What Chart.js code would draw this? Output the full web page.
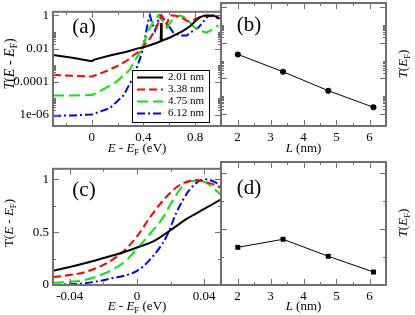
<!DOCTYPE html>
<html><head><meta charset="utf-8">
<script src="https://cdn.jsdelivr.net/npm/chart.js@4/dist/chart.umd.min.js"></script>
<style>
html,body{margin:0;padding:0;background:#fff;width:415px;height:315px;overflow:hidden}
canvas{position:absolute}
</style></head><body>
<canvas id="ca" width="223" height="160" style="left:0;top:0"></canvas>
<canvas id="cb" width="196" height="160" style="left:219px;top:0"></canvas>
<canvas id="cc" width="223" height="158" style="left:0;top:157px"></canvas>
<canvas id="cd" width="196" height="158" style="left:219px;top:157px"></canvas>
<script>
// ---------- data ----------
const seriesNames = ['2.01 nm', '3.38 nm', '4.75 nm', '6.12 nm'];
const lengths = [2.01, 3.38, 4.75, 6.12];

// panel (a): T(E - EF), log scale
const aE201 = [-0.3, -0.15, -0.01, 0, 0.02, 0.14, 0.27, 0.35, 0.40, 0.45, 0.50, 0.533, 0.537, 0.541, 0.60, 0.657, 0.70, 0.76, 0.80, 0.84, 0.87, 0.90, 0.95, 0.99];
const aT201 = [4.2e-3, 2.8e-3, 1.8e-3, 1.75e-3, 2.2e-3, 3.9e-3, 6.5e-3, 1.0e-2, 1.2e-2, 1.6e-2, 2.2e-2, 2.8e-2, 0.35, 3.0e-2, 4.5e-2, 7.5e-2, 0.11, 0.22, 0.45, 0.8, 0.97, 1.0, 0.95, 0.65];
const aE338 = [-0.3, -0.15, 0, 0.115, 0.218, 0.296, 0.321, 0.373, 0.40, 0.45, 0.50, 0.54, 0.56, 0.58, 0.595, 0.615, 0.65, 0.683, 0.72, 0.747, 0.78, 0.81, 0.85, 0.889, 0.93, 0.98];
const aT338 = [2.7e-4, 2.3e-4, 2.1e-4, 4.5e-4, 1.07e-3, 2.5e-3, 3.9e-3, 7.3e-3, 1.4e-2, 4e-2, 0.18, 1.0, 0.6, 0.28, 0.6, 1.0, 0.95, 0.8, 0.55, 0.43, 0.5, 0.65, 0.85, 1.0, 0.9, 0.65];
const aE475 = [-0.3, -0.15, 0, 0.089, 0.19, 0.296, 0.334, 0.373, 0.41, 0.437, 0.476, 0.515, 0.553, 0.58, 0.60, 0.63, 0.683, 0.734, 0.785, 0.837, 0.889, 0.94, 0.98];
const aT475 = [1.5e-5, 1.5e-5, 1.6e-5, 3.5e-5, 1e-4, 5.6e-4, 2e-3, 6e-3, 0.03, 0.12, 0.43, 1.0, 0.43, 0.18, 0.3, 0.65, 1.0, 0.65, 0.22, 0.12, 0.095, 0.15, 0.25];
const aE612 = [-0.3, -0.15, 0, 0.14, 0.245, 0.321, 0.373, 0.40, 0.42, 0.44, 0.45, 0.463, 0.49, 0.51, 0.528, 0.55, 0.58, 0.63, 0.683, 0.734, 0.785, 0.824, 0.86, 0.90, 0.94, 0.98];
const aT612 = [9e-7, 9.5e-7, 1.1e-6, 2.6e-6, 1.5e-5, 1.9e-4, 2.5e-3, 1.2e-2, 0.1, 0.6, 1.0, 0.43, 0.12, 0.4, 1.0, 0.7, 0.35, 0.095, 0.062, 0.062, 0.12, 0.18, 0.4, 0.9, 1.0, 0.8];

// panel (b): T(EF) vs L, log scale
const bT = [2.21e-3, 2.37e-4, 2.07e-5, 2.45e-6];

// panel (c): T(E - EF), linear
const cE201 = [-0.05, -0.04, -0.03, -0.02, -0.01, 0, 0.01, 0.02, 0.03, 0.04, 0.05];
const cT201 = [0.135, 0.17, 0.21, 0.255, 0.30, 0.355, 0.415, 0.52, 0.63, 0.72, 0.81];
const cE338 = [-0.05, -0.04, -0.0317, -0.02, -0.016, -0.008, 0, 0.0077, 0.0155, 0.0235, 0.031, 0.035, 0.039, 0.045, 0.05];
const cT338 = [0.075, 0.095, 0.119, 0.19, 0.225, 0.32, 0.46, 0.64, 0.80, 0.925, 0.985, 0.995, 0.985, 0.955, 0.92];
const cE475 = [-0.05, -0.04, -0.0317, -0.016, -0.006, 0, 0.008, 0.0155, 0.0215, 0.0274, 0.033, 0.037, 0.041, 0.046, 0.05];
const cT475 = [0.021, 0.03, 0.045, 0.134, 0.239, 0.343, 0.49, 0.64, 0.806, 0.94, 0.985, 0.985, 0.97, 0.91, 0.85];
const cE612 = [-0.05, -0.04, -0.0317, -0.016, 0, 0.0077, 0.0176, 0.0235, 0.0274, 0.031, 0.037, 0.041, 0.047, 0.05];
const cT612 = [0.0, 0.008, 0.015, 0.06, 0.134, 0.24, 0.46, 0.687, 0.806, 0.895, 0.985, 1.0, 0.97, 0.94];

// panel (d): T(EF) vs L, linear
const dT = [0.337, 0.409, 0.257, 0.116];

// ticks
const aXTicks = [0, 0.4, 0.8];
const aXLabels = ['0', '0.4', '0.8'];
const aXMinor = [-0.2, 0.2, 0.6];
const logTicks = [1, 0.01, 0.0001, 1e-6];
const logLabels = ['1', '0.01', '0.0001', '1e-06'];
const logMinor = [0.1, 0.09, 0.08, 0.07, 0.06, 0.05, 0.04, 0.03, 0.02,
                  0.001, 9e-4, 8e-4, 7e-4, 6e-4, 5e-4, 4e-4, 3e-4, 2e-4,
                  1e-5, 9e-6, 8e-6, 7e-6, 6e-6, 5e-6, 4e-6, 3e-6, 2e-6];
const lTicks = [2, 3, 4, 5, 6];
const lLabels = ['2', '3', '4', '5', '6'];
const lMinor = [2.5, 3.5, 4.5, 5.5];
const cXTicks = [-0.04, 0, 0.04];
const cXLabels = ['-0.04', '0', '0.04'];
const cXMinor = [-0.02, 0.02];
const linTicks = [0, 0.5, 1];
const linLabels = ['0', '0.5', '1'];
const linMinor = [0.25, 0.75];

// ---------- styles ----------
const FONT = "'Liberation Serif','Times New Roman',serif";
const colors = ['#000000', '#ff0000', '#00ee00', '#0000ff'];
const dashes = [[], [8, 4], [11, 5], [8, 3, 2, 3]];
const FRAME = '#707070';

function pts(xs, ys) { return xs.map((x, i) => ({x: x, y: ys[i]})); }

function drawRich(ctx, parts, x, y, size, rot, align) {
  ctx.save();
  ctx.translate(x, y);
  if (rot) ctx.rotate(rot);
  let w = 0;
  const segs = parts.map(p => {
    const fs = p.sub ? size * 0.68 : size;
    const f = (p.it ? 'italic ' : '') + fs + 'px ' + FONT;
    ctx.font = f;
    const mw = ctx.measureText(p.t).width;
    w += mw;
    return {t: p.t, f: f, w: mw, dy: p.sub ? size * 0.32 : 0};
  });
  let cx = align === 'left' ? 0 : (align === 'right' ? -w : -w / 2);
  ctx.textBaseline = 'middle';
  ctx.textAlign = 'left';
  ctx.fillStyle = '#000';
  segs.forEach(s => { ctx.font = s.f; ctx.fillText(s.t, cx, s.dy); cx += s.w; });
  ctx.restore();
}

const titleE = [{t: 'E', it: 1}, {t: ' - '}, {t: 'E', it: 1}, {t: 'F', sub: 1}, {t: ' (eV)'}];
const titleL = [{t: 'L', it: 1}, {t: ' (nm)'}];
const titleTa = [{t: 'T', it: 1}, {t: '('}, {t: 'E', it: 1}, {t: ' - '}, {t: 'E', it: 1}, {t: 'F', sub: 1}, {t: ')'}];
const titleTc = [{t: 'T'}, {t: '('}, {t: 'E', it: 1}, {t: ' - '}, {t: 'E', it: 1}, {t: 'F', sub: 1}, {t: ')'}];
const titleTF = [{t: 'T', it: 1}, {t: '('}, {t: 'E', it: 1}, {t: 'F', sub: 1}, {t: ')'}];

function deco(spec) {
  return {
    id: 'deco',
    afterDatasetsDraw(chart) {
      const ctx = chart.ctx, ca = chart.chartArea;
      const xs = chart.scales.x, ys = chart.scales.y;
      ctx.save();
      ctx.strokeStyle = FRAME;
      ctx.lineWidth = 1;
      ctx.beginPath();
      const tick = (v, len, axis) => {
        if (axis === 'x') {
          const p = Math.round(xs.getPixelForValue(v)) + 0.5;
          if (p < ca.left + 1 || p > ca.right - 1) return;
          ctx.moveTo(p, ca.bottom); ctx.lineTo(p, ca.bottom - len);
          ctx.moveTo(p, ca.top); ctx.lineTo(p, ca.top + len);
        } else {
          const p = Math.round(ys.getPixelForValue(v)) + 0.5;
          if (p < ca.top + 1 || p > ca.bottom - 1) return;
          ctx.moveTo(ca.left, p); ctx.lineTo(ca.left + len, p);
          ctx.moveTo(ca.right, p); ctx.lineTo(ca.right - len, p);
        }
      };
      spec.xMajor.forEach(v => tick(v, 6, 'x'));
      spec.xMinor.forEach(v => tick(v, 3, 'x'));
      spec.yMajor.forEach(v => tick(v, 6, 'y'));
      spec.yMinor.forEach(v => tick(v, 3, 'y'));
      ctx.stroke();
      ctx.lineWidth = 2;
      ctx.strokeRect(ca.left, ca.top, ca.right - ca.left, ca.bottom - ca.top);
      ctx.restore();
      // texts (page coords -> canvas coords)
      spec.texts.forEach(t => drawRich(ctx, t.parts, t.x - spec.ox, t.y - spec.oy, t.size, t.rot || 0, t.align || 'center'));
      if (spec.legend) {
        const L = spec.legend;
        ctx.save();
        ctx.fillStyle = '#fff';
        ctx.fillRect(L.x0 - spec.ox, L.y0 - spec.oy, L.x1 - L.x0, L.y1 - L.y0);
        ctx.strokeStyle = '#000';
        ctx.lineWidth = 1;
        ctx.strokeRect(L.x0 - spec.ox + 0.5, L.y0 - spec.oy + 0.5, L.x1 - L.x0, L.y1 - L.y0);
        seriesNames.forEach((name, i) => {
          const yy = L.rows[i] - spec.oy;
          ctx.beginPath();
          ctx.strokeStyle = colors[i];
          ctx.lineWidth = 2;
          ctx.setLineDash(dashes[i]);
          ctx.moveTo(L.sx0 - spec.ox, yy); ctx.lineTo(L.sx1 - spec.ox, yy);
          ctx.stroke();
          ctx.setLineDash([]);
          ctx.fillStyle = '#000';
          ctx.font = L.size + 'px ' + FONT;
          ctx.textBaseline = 'middle';
          ctx.textAlign = 'left';
          ctx.fillText(name, L.tx - spec.ox, yy);
        });
        ctx.restore();
      }
    }
  };
}

function fixedTicks(vals) { return s => { s.ticks = vals.map(v => ({value: v})); }; }

function makeChart(id, datasets, xcfg, ycfg, pad, xH, yW, spec) {
  const tickFont = {family: FONT, size: 13};
  return new Chart(document.getElementById(id), {
    type: 'line',
    data: {datasets: datasets},
    options: {
      responsive: false, animation: false, events: [],
      layout: {padding: pad, autoPadding: false},
      plugins: {legend: {display: false}, tooltip: {enabled: false}},
      scales: {
        x: Object.assign({
          type: 'linear',
          grid: {display: false, drawTicks: false}, border: {display: false},
          ticks: {font: tickFont, color: '#000', padding: 4, maxRotation: 0, autoSkip: false,
                  callback: (v, i) => xcfg.labels[i]},
          afterBuildTicks: fixedTicks(xcfg.ticks),
          afterFit: s => { s.height = xH; }
        }, xcfg.opts),
        y: Object.assign({
          grid: {display: false, drawTicks: false}, border: {display: false},
          ticks: {font: tickFont, color: '#000', padding: 4, autoSkip: false,
                  display: !!ycfg.labels,
                  callback: (v, i) => ycfg.labels ? ycfg.labels[i] : ''},
          afterBuildTicks: fixedTicks(ycfg.ticks),
          afterFit: s => { s.width = yW; }
        }, ycfg.opts)
      }
    },
    plugins: [deco(spec)]
  });
}

function curveSets(list, smooth) {
  return list.map((d, i) => ({
    data: pts(d[0], d[1]), borderColor: colors[i], borderWidth: 2, borderDash: dashes[i],
    pointRadius: 0, fill: false, tension: 0,
    cubicInterpolationMode: smooth ? 'monotone' : 'default'
  }));
}

// (a)
makeChart('ca',
  curveSets([[aE201, aT201], [aE338, aT338], [aE475, aT475], [aE612, aT612]], false),
  {ticks: aXTicks, labels: aXLabels, opts: {min: -0.3, max: 1.0}},
  {ticks: logTicks, labels: logLabels, opts: {type: 'logarithmic', min: 2.2e-7, max: 1.65}},
  {left: 0, top: 3, right: 2, bottom: 0}, 34, 53,
  {ox: 0, oy: 0, xMajor: aXTicks, xMinor: aXMinor, yMajor: logTicks, yMinor: logMinor,
   texts: [
     {parts: titleE, x: 137, y: 149, size: 13},
     {parts: titleTa, x: 10, y: 64, size: 14, rot: -Math.PI / 2},
     {parts: [{t: '(a)'}], x: 84, y: 27, size: 21}
   ],
   legend: {x0: 132, y0: 70, x1: 209, y1: 122, sx0: 137, sx1: 163, tx: 168, size: 11,
            rows: [77.5, 89.5, 101.5, 113.5]}});

// (b)
makeChart('cb',
  [{data: pts(lengths, bT), borderColor: '#000', borderWidth: 1, pointRadius: 3,
    pointBackgroundColor: '#000', pointBorderWidth: 0, pointStyle: 'circle', fill: false}],
  {ticks: lTicks, labels: lLabels, opts: {min: 1.5, max: 6.5}},
  {ticks: logTicks, labels: null, opts: {type: 'logarithmic', min: 2.2e-7, max: 1.65}},
  {left: 2, top: 3, right: 29, bottom: 0}, 34, 0,
  {ox: 219, oy: 0, xMajor: lTicks, xMinor: lMinor, yMajor: logTicks, yMinor: logMinor,
   texts: [
     {parts: titleL, x: 303.5, y: 149, size: 13},
     {parts: titleTF, x: 404, y: 64, size: 13, rot: -Math.PI / 2},
     {parts: [{t: '(b)'}], x: 249, y: 25, size: 21}
   ]});

// (c)
makeChart('cc',
  curveSets([[cE201, cT201], [cE338, cT338], [cE475, cT475], [cE612, cT612]], true),
  {ticks: cXTicks, labels: cXLabels, opts: {min: -0.05, max: 0.05}},
  {ticks: linTicks, labels: linLabels, opts: {type: 'linear', min: 0, max: 1.1}},
  {left: 0, top: 5, right: 2, bottom: 0}, 30, 53,
  {ox: 0, oy: 157, xMajor: cXTicks, xMinor: cXMinor, yMajor: linTicks, yMinor: linMinor,
   texts: [
     {parts: titleE, x: 137, y: 307, size: 13},
     {parts: titleTc, x: 10, y: 223, size: 13, rot: -Math.PI / 2},
     {parts: [{t: '(c)'}], x: 84, y: 190, size: 21}
   ]});

// (d)
makeChart('cd',
  [{data: pts(lengths, dT), borderColor: '#000', borderWidth: 1, pointRadius: 3.5,
    pointBackgroundColor: '#000', pointBorderWidth: 0, pointStyle: 'rect', fill: false}],
  {ticks: lTicks, labels: lLabels, opts: {min: 1.5, max: 6.5}},
  {ticks: linTicks, labels: null, opts: {type: 'linear', min: 0, max: 1.1}},
  {left: 2, top: 5, right: 29, bottom: 0}, 30, 0,
  {ox: 219, oy: 157, xMajor: lTicks, xMinor: lMinor, yMajor: linTicks, yMinor: linMinor,
   texts: [
     {parts: titleL, x: 303.5, y: 307, size: 13},
     {parts: titleTF, x: 404, y: 223, size: 13, rot: -Math.PI / 2},
     {parts: [{t: '(d)'}], x: 249, y: 188, size: 21}
   ]});
</script>
</body></html>
